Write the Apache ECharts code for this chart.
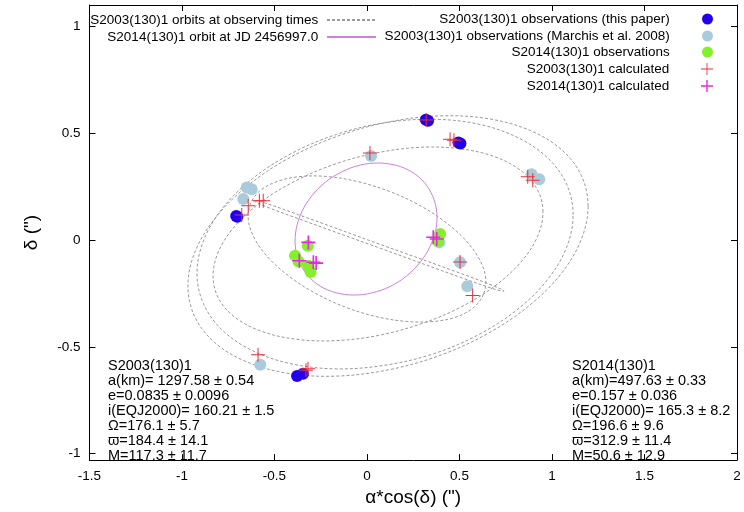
<!DOCTYPE html>
<html>
<head>
<meta charset="utf-8">
<script src="https://cdn.jsdelivr.net/npm/echarts@6/dist/echarts.min.js"></script>
<style>
html,body{margin:0;padding:0;background:#fff}
#chart{width:744px;height:512px}
</style>
</head>
<body>
<div id="chart"></div>
<script>
// Observed positions of the satellites relative to the primary (arcsec)
const s2003ThisPaper = [[0.318,0.563],[0.330,0.558],[0.494,0.456],[0.505,0.452],[-0.701,0.109],[-0.707,0.113],[-0.378,-0.636],[-0.346,-0.626]];
const s2003Marchis = [[0.022,0.393],[0.890,0.308],[0.931,0.285],[-0.650,0.246],[-0.623,0.238],[-0.669,0.192],[0.503,-0.104],[0.542,-0.216],[0.391,-0.011],[-0.577,-0.584]];
const s2014Obs = [[-0.320,-0.027],[-0.389,-0.073],[-0.370,-0.100],[-0.317,-0.120],[-0.305,-0.150],[0.395,0.028],[0.384,-0.005]];

// Model positions at the observing epochs
const s2003Calc = [[0.320,0.562],[0.449,0.472],[0.470,0.467],[0.016,0.407],[0.869,0.296],[0.896,0.280],[-0.677,0.117],[-0.642,0.160],[-0.582,0.184],[-0.561,0.184],[0.503,-0.103],[0.571,-0.260],[-0.589,-0.537],[-0.319,-0.603],[-0.330,-0.610]];
const s2014Calc = [[-0.317,-0.011],[-0.366,-0.097],[-0.290,-0.104],[-0.275,-0.108],[0.358,0.013],[0.377,0.005]];

// Projected S2003(130)1 orbits at the observing epochs (closed loops, sampled points)
const orbitA1 = [[1.195,0.159],[1.158,0.303],[1.050,0.424],[0.878,0.514],[0.654,0.568],[0.394,0.581],[0.114,0.552],[-0.166,0.484],[-0.427,0.381],[-0.651,0.250],[-0.823,0.100],[-0.931,-0.058],[-0.968,-0.215],[-0.931,-0.359],[-0.823,-0.480],[-0.651,-0.570],[-0.427,-0.624],[-0.166,-0.637],[0.114,-0.608],[0.394,-0.540],[0.654,-0.437],[0.878,-0.306],[1.050,-0.157],[1.158,0.002]];
const orbitA2 = [[1.114,0.118],[1.079,0.261],[0.977,0.384],[0.816,0.479],[0.605,0.542],[0.361,0.565],[0.097,0.549],[-0.166,0.494],[-0.411,0.404],[-0.621,0.286],[-0.783,0.147],[-0.884,-0.004],[-0.919,-0.156],[-0.884,-0.298],[-0.783,-0.421],[-0.621,-0.517],[-0.411,-0.579],[-0.166,-0.603],[0.097,-0.586],[0.361,-0.532],[0.605,-0.442],[0.816,-0.323],[0.977,-0.184],[1.079,-0.034]];
const orbitB = [[0.951,0.131],[0.921,0.236],[0.832,0.325],[0.690,0.390],[0.505,0.427],[0.290,0.434],[0.059,0.409],[-0.171,0.356],[-0.386,0.277],[-0.571,0.179],[-0.713,0.066],[-0.802,-0.052],[-0.832,-0.168],[-0.802,-0.274],[-0.713,-0.362],[-0.571,-0.427],[-0.386,-0.464],[-0.171,-0.471],[0.059,-0.447],[0.290,-0.393],[0.505,-0.315],[0.690,-0.216],[0.832,-0.103],[0.921,0.015]];
const orbitC = [[0.631,-0.251],[0.641,-0.174],[0.606,-0.088],[0.531,0.001],[0.419,0.087],[0.279,0.165],[0.120,0.228],[-0.048,0.273],[-0.212,0.297],[-0.362,0.297],[-0.486,0.274],[-0.579,0.230],[-0.631,0.167],[-0.641,0.090],[-0.606,0.004],[-0.531,-0.085],[-0.419,-0.171],[-0.279,-0.249],[-0.120,-0.313],[0.048,-0.358],[0.212,-0.381],[0.362,-0.381],[0.486,-0.359],[0.579,-0.314]];
const orbitD = [[-0.611,0.185],[-0.568,0.178],[-0.362,0.116],[0.070,-0.020],[0.503,-0.155],[0.697,-0.219],[0.741,-0.239],[0.697,-0.232],[0.503,-0.174],[0.070,-0.038],[-0.362,0.097],[-0.568,0.164]];

// S2014(130)1 orbit at JD 2456997.0 (closed loop, sampled points)
const orbit2014 = [[0.376,0.070],[0.374,0.150],[0.346,0.222],[0.295,0.283],[0.223,0.328],[0.135,0.354],[0.038,0.360],[-0.062,0.345],[-0.159,0.309],[-0.244,0.257],[-0.314,0.189],[-0.362,0.113],[-0.386,0.033],[-0.385,-0.047],[-0.357,-0.119],[-0.305,-0.180],[-0.234,-0.225],[-0.145,-0.251],[-0.049,-0.257],[0.051,-0.242],[0.148,-0.207],[0.233,-0.154],[0.303,-0.086],[0.351,-0.010]];

// Orbital element summaries
const s2003Elements = ['S2003(130)1','a(km)= 1297.58 \u00b1 0.54','e=0.0835 \u00b1 0.0096','i(EQJ2000)= 160.21 \u00b1 1.5','\u03a9=176.1 \u00b1 5.7','\u03d6=184.4 \u00b1 14.1','M=117.3 \u00b1 11.7'];
const s2014Elements = ['S2014(130)1','a(km)=497.63 \u00b1 0.33','e=0.157 \u00b1 0.036','i(EQJ2000)= 165.3 \u00b1 8.2','\u03a9=196.6 \u00b1 9.6','\u03d6=312.9 \u00b1 11.4','M=50.6 \u00b1 12.9'];

const NAME_ORBITS = 'S2003(130)1 orbits at observing times';
const NAME_ORBIT14 = 'S2014(130)1 orbit at JD 2456997.0';
const NAME_THIS = 'S2003(130)1 observations (this paper)';
const NAME_MARCHIS = 'S2003(130)1 observations (Marchis et al. 2008)';
const NAME_OBS14 = 'S2014(130)1 observations';
const NAME_CALC03 = 'S2003(130)1 calculated';
const NAME_CALC14 = 'S2014(130)1 calculated';

const FONT = '"Liberation Sans", Arial, Helvetica, sans-serif';
const PLUS_THIN = 'path://M6.5,0h1v14h-1zM0,6.5h14v1h-14z';
const PLUS_BOLD = 'path://M6.2,0h1.6v14h-1.6zM0,6.2h14v1.6h-14z';
const NO_MARK = {color: 'transparent', borderColor: 'transparent', borderWidth: 0};
const ORBIT_GRAY = '#9a9a9a';
const ORBIT_DASH = [3, 2];
const ORBIT14_COLOR = '#cf7fe0';

const chart = echarts.init(document.getElementById('chart'), null, {renderer: 'canvas'});

// Only the half-unit ticks carry a label
const fmtY = v => {
  if (Math.abs(v * 2 - Math.round(v * 2)) > 1e-6) return '';
  return String(Math.round(v * 2) / 2);
};

// A closed orbit drawn as one smooth loop through its sampled points
function loopSeries(name, pts, color, dash, z) {
  return {
    type: 'custom', name: name, data: pts, z: z, silent: true,
    encode: {x: 0, y: 1},
    itemStyle: {color: color},
    renderItem: (params, api) => {
      if (params.dataIndex !== 0) return null;
      return {
        type: 'polygon',
        shape: {points: pts.map(p => api.coord(p)), smooth: 0.35},
        style: {fill: 'none', stroke: color, lineWidth: 1, lineDash: dash}
      };
    }
  };
}

// Line series that only provides the line sample in the key
function keySample(name, color, dash) {
  return {type: 'line', name: name, data: [], symbol: 'none', itemStyle: NO_MARK,
          lineStyle: {color: color, width: 1, type: dash || 'solid'}, silent: true};
}

function legendItem(name, right, top, itemWidth, itemHeight, lineIcon) {
  return {
    data: [lineIcon ? {name: name, itemStyle: NO_MARK} : name],
    orient: 'vertical', align: 'right', right: right, top: top,
    padding: 0, itemWidth: itemWidth, itemHeight: itemHeight, selectedMode: false,
    textStyle: {fontFamily: FONT, fontSize: 13.5, color: '#000'},
    formatter: n => n + ' '
  };
}

const axisCommon = {
  type: 'value',
  axisLine: {show: true, onZero: false, lineStyle: {color: '#000', width: 1}},
  axisTick: {show: true, inside: true, length: 6, lineStyle: {color: '#000'}},
  splitLine: {show: false}
};

const series = [
  keySample(NAME_ORBITS, ORBIT_GRAY, ORBIT_DASH),
  keySample(NAME_ORBIT14, ORBIT14_COLOR)
].concat(
  [orbitA1, orbitA2, orbitB, orbitC, orbitD].map(pts => loopSeries(NAME_ORBITS, pts, ORBIT_GRAY, ORBIT_DASH, 2)),
  [loopSeries(NAME_ORBIT14, orbit2014, ORBIT14_COLOR, null, 3)],
  [
    {type: 'scatter', name: NAME_THIS, data: s2003ThisPaper, symbol: 'circle', symbolSize: 12,
     itemStyle: {color: '#2200ee', opacity: 1}, z: 4, silent: true},
    {type: 'scatter', name: NAME_MARCHIS, data: s2003Marchis, symbol: 'circle', symbolSize: 12,
     itemStyle: {color: '#a9cbdc', opacity: 1}, z: 4, silent: true},
    {type: 'scatter', name: NAME_OBS14, data: s2014Obs, symbol: 'circle', symbolSize: 12,
     itemStyle: {color: '#84f02a', opacity: 1}, z: 4, silent: true},
    {type: 'scatter', name: NAME_CALC03, data: s2003Calc, symbol: PLUS_THIN, symbolSize: 14, symbolKeepAspect: true,
     itemStyle: {color: '#e8303a', opacity: 1}, z: 5, silent: true},
    {type: 'scatter', name: NAME_CALC14, data: s2014Calc, symbol: PLUS_BOLD, symbolSize: 14, symbolKeepAspect: true,
     itemStyle: {color: '#ee22ee', opacity: 1}, z: 6, silent: true}
  ]
);

chart.setOption({
  animation: false,
  backgroundColor: '#fff',
  grid: {left: 89.5, right: 7, top: 5, bottom: 50.6, containLabel: false},
  xAxis: [
    Object.assign({}, axisCommon, {
      min: -1.5, max: 2, interval: 0.5, position: 'bottom',
      axisLabel: {fontFamily: FONT, fontSize: 13.5, color: '#000', margin: 9, formatter: v => String(v)},
      name: '\u03b1*cos(\u03b4) (")', nameLocation: 'middle', nameGap: 27,
      nameTextStyle: {fontFamily: FONT, fontSize: 19, color: '#000'}
    }),
    Object.assign({}, axisCommon, {
      min: -1.5, max: 2, interval: 0.5, position: 'top', axisLabel: {show: false}
    })
  ],
  yAxis: [
    Object.assign({}, axisCommon, {
      min: -1.03, max: 1.1, splitNumber: 4, position: 'left',
      axisLabel: {fontFamily: FONT, fontSize: 13.5, color: '#000', margin: 9, formatter: fmtY},
      name: '\u03b4 (")', nameLocation: 'middle', nameRotate: 90, nameGap: 48,
      nameTextStyle: {fontFamily: FONT, fontSize: 19, color: '#000'}
    }),
    Object.assign({}, axisCommon, {
      min: -1.03, max: 1.1, splitNumber: 4, position: 'right', axisLabel: {show: false}
    })
  ],
  legend: [
    legendItem(NAME_ORBITS, 367, 13, 49, 12, true),
    legendItem(NAME_ORBIT14, 367, 30, 49, 12, true),
    legendItem(NAME_THIS, 31, 12, 58, 11),
    legendItem(NAME_MARCHIS, 31, 29, 58, 11),
    legendItem(NAME_OBS14, 31, 45, 58, 11),
    legendItem(NAME_CALC03, 31, 62, 58, 12),
    legendItem(NAME_CALC14, 31, 79, 58, 12)
  ],
  series: series,
  graphic: [
    {type: 'text', left: 108, top: 358, silent: true,
     style: {text: s2003Elements.join('\n'), font: '14.5px ' + FONT, lineHeight: 15, fill: '#000'}},
    {type: 'text', left: 572, top: 358, silent: true,
     style: {text: s2014Elements.join('\n'), font: '14.5px ' + FONT, lineHeight: 15, fill: '#000'}}
  ]
});
</script>
</body>
</html>
